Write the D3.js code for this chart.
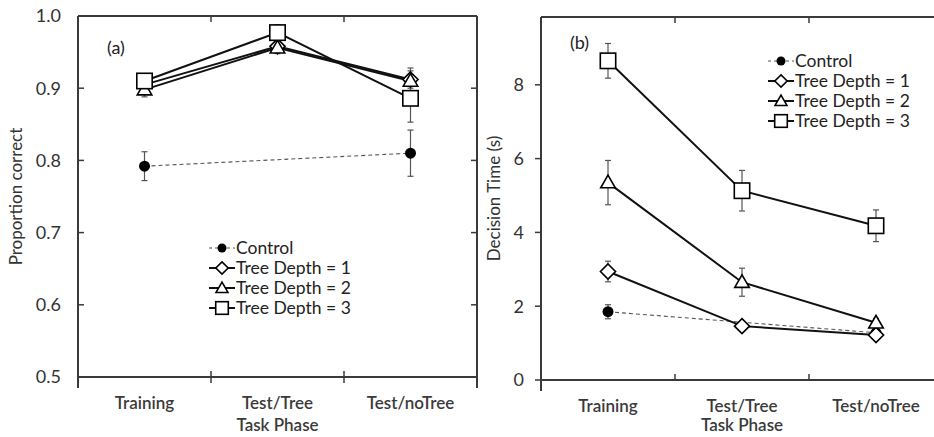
<!DOCTYPE html>
<html>
<head>
<meta charset="utf-8">
<script src="https://cdn.jsdelivr.net/npm/d3@7"></script>
<style>
  body{margin:0;background:#fff;}
  svg{display:block;font-family:Lato,"Open Sans",sans-serif;}
</style>
</head>
<body>
<svg id="chart" width="934" height="437"></svg>
<script>
// categories
var phases=["Training","Test/Tree","Test/noTree"];
var seriesNames=["Control","Tree Depth = 1","Tree Depth = 2","Tree Depth = 3"];

// panel (a) proportion correct, null = no point
var accControl=[0.792,null,0.810];
var accControlErr=[0.020,null,0.032];
var accDepth1=[0.905,0.958,0.912];
var accDepth1Err=[0.010,0.008,0.012];
var accDepth2=[0.898,0.956,0.910];
var accDepth2Err=[0.010,0.008,0.018];
var accDepth3=[0.910,0.977,0.886];
var accDepth3Err=[0.008,0.011,0.033];

// panel (b) decision time (s)
var dtControl=[1.85,null,1.28];
var dtControlErr=[0.19,null,0.08];
var dtDepth1=[2.94,1.46,1.22];
var dtDepth1Err=[0.28,0.08,0.08];
var dtDepth2=[5.35,2.65,1.55];
var dtDepth2Err=[0.60,0.38,0.12];
var dtDepth3=[8.65,5.13,4.18];
var dtDepth3Err=[0.47,0.55,0.43];

var accTicks=[0.5,0.6,0.7,0.8,0.9,1.0];
var dtTicks=[0,2,4,6,8];

var svg=d3.select("#chart");
var axisCol="#3a3a3a";

function drawMarker(g,type,x,y,sc){
    sc=sc||1;
    if(type==0){
        g.append("circle").attr("cx",x).attr("cy",y).attr("r",5*sc).attr("fill","#000");
    }else if(type==1){
        g.append("path").attr("d",d3.symbol().type(d3.symbolDiamond2).size(120*sc*sc)())
            .attr("transform","translate("+x+","+y+")")
            .attr("fill","#fff").attr("stroke","#000").attr("stroke-width",1.6);
    }else if(type==2){
        g.append("path").attr("d",d3.symbol().type(d3.symbolTriangle2).size(125*sc*sc)())
            .attr("transform","translate("+x+","+(y+1)+")")
            .attr("fill","#fff").attr("stroke","#000").attr("stroke-width",1.6);
    }else{
        var h=7*sc;
        g.append("rect").attr("x",x-h).attr("y",y-h).attr("width",2*h).attr("height",2*h)
            .attr("fill","#fff").attr("stroke","#000").attr("stroke-width",1.6);
    }
}

function drawPanel(cfg){
    var g=svg.append("g");
    var x=d3.scaleBand().domain(phases).range([cfg.left,cfg.right]);
    var y=d3.scaleLinear().domain(cfg.domain).range([cfg.bottom,cfg.top0]);
    var cx=function(p){return x(p)+x.bandwidth()/2;};

    // frame / axes
    g.append("line").attr("x1",cfg.left).attr("x2",cfg.left).attr("y1",cfg.top).attr("y2",cfg.bottom+11)
        .attr("stroke",axisCol).attr("stroke-width",2);
    g.append("line").attr("x1",cfg.left).attr("x2",cfg.right).attr("y1",cfg.bottom).attr("y2",cfg.bottom)
        .attr("stroke",axisCol).attr("stroke-width",2.2);
    g.append("line").attr("x1",cfg.left).attr("x2",cfg.right).attr("y1",cfg.top).attr("y2",cfg.top)
        .attr("stroke",axisCol).attr("stroke-width",2);
    if(cfg.rightBorder){
        g.append("line").attr("x1",cfg.right).attr("x2",cfg.right).attr("y1",cfg.top).attr("y2",cfg.bottom+11)
            .attr("stroke",axisCol).attr("stroke-width",2);
    }

    // y ticks
    cfg.ticks.forEach(function(t){
        var yy=y(t);
        g.append("line").attr("x1",cfg.left+cfg.tickDir*6).attr("x2",cfg.left).attr("y1",yy).attr("y2",yy)
            .attr("stroke",axisCol).attr("stroke-width",1.5);
        if(cfg.rightBorder && t>cfg.domain[0] && t<cfg.domain[1]){
            g.append("line").attr("x1",cfg.right-6).attr("x2",cfg.right).attr("y1",yy).attr("y2",yy)
                .attr("stroke",axisCol).attr("stroke-width",1.5);
        }
        g.append("text").attr("x",cfg.left-cfg.labelGap).attr("y",yy).attr("dy","0.35em")
            .attr("text-anchor","end").style("font-size","18px").style("fill","#333")
            .text(cfg.fmt(t));
    });

    // x ticks at band edges
    phases.slice(1).forEach(function(p){
        var xx=x(p);
        g.append("line").attr("x1",xx).attr("x2",xx).attr("y1",cfg.bottom+cfg.xTick[0]).attr("y2",cfg.bottom+cfg.xTick[1])
            .attr("stroke",axisCol).attr("stroke-width",1.5);
        g.append("line").attr("x1",xx).attr("x2",xx).attr("y1",cfg.top).attr("y2",cfg.top+6)
            .attr("stroke",axisCol).attr("stroke-width",1.5);
    });
    phases.forEach(function(p){
        g.append("text").attr("x",cx(p)).attr("y",cfg.bottom+32).attr("text-anchor","middle")
            .style("font-size","17px").style("font-weight","600").style("fill","#3a3a3a").text(p);
    });
    g.append("text").attr("x",cx(phases[1])).attr("y",431).attr("text-anchor","middle")
        .style("font-size","17px").style("font-weight","600").style("fill","#3a3a3a").text("Task Phase");
    g.append("text").attr("transform","translate("+cfg.titleX+","+((cfg.top+cfg.bottom)/2)+") rotate(-90)")
        .attr("text-anchor","middle").style("font-size","17px").style("fill","#333").text(cfg.title);
    g.append("text").attr("x",cfg.tag[0]).attr("y",cfg.tag[1]).style("font-size","18px").style("fill","#222").text(cfg.tagText);

    // series
    cfg.series.forEach(function(s,k){
        var pts=[];
        s.vals.forEach(function(v,i){ if(v!==null){ pts.push([cx(phases[i]),y(v)]); } });
        g.append("path").attr("d",d3.line()(pts)).attr("fill","none")
            .attr("stroke",k==0?"#555":"#111")
            .attr("stroke-width",k==0?1.1:2)
            .attr("stroke-dasharray",k==0?"4,3":null);
    });
    cfg.series.forEach(function(s,k){
        s.vals.forEach(function(v,i){
            if(v===null) return;
            var xx=cx(phases[i]);
            var e=s.err[i];
            g.append("line").attr("x1",xx).attr("x2",xx).attr("y1",y(v-e)).attr("y2",y(v+e))
                .attr("stroke","#555").attr("stroke-width",1.2);
            [v-e,v+e].forEach(function(b){
                g.append("line").attr("x1",xx-3).attr("x2",xx+3).attr("y1",y(b)).attr("y2",y(b))
                    .attr("stroke","#555").attr("stroke-width",1.2);
            });
        });
    });
    cfg.series.forEach(function(s,k){
        s.vals.forEach(function(v,i){
            if(v===null) return;
            drawMarker(g,k,cx(phases[i]),y(v),1.1);
        });
    });

    // legend
    seriesNames.forEach(function(n,k){
        var ly=cfg.legend[1]+k*20;
        var lx=cfg.legend[0];
        g.append("line").attr("x1",lx-13).attr("x2",lx+13).attr("y1",ly).attr("y2",ly)
            .attr("stroke",k==0?"#555":"#111").attr("stroke-width",k==0?1.1:2)
            .attr("stroke-dasharray",k==0?"3,3":null);
        drawMarker(g,k,lx,ly,0.9);
        g.append("text").attr("x",lx+14).attr("y",ly).attr("dy","0.35em")
            .style("font-size","17.5px").style("fill","#222").text(n);
    });
}

drawPanel({
    left:78,right:477,top:16,top0:16,bottom:377,domain:[0.5,1.0],
    ticks:accTicks,fmt:d3.format(".1f"),tickDir:1,labelGap:17,xTick:[-6,6],rightBorder:true,
    title:"Proportion correct",titleX:22,tag:[107,54],tagText:"(a)",legend:[222,248],
    series:[
        {vals:accControl,err:accControlErr},
        {vals:accDepth1,err:accDepth1Err},
        {vals:accDepth2,err:accDepth2Err},
        {vals:accDepth3,err:accDepth3Err}
    ]
});

drawPanel({
    left:541,right:943,top:17,top0:11,bottom:380,domain:[0,10],
    ticks:dtTicks,fmt:d3.format("d"),tickDir:-1,labelGap:17,xTick:[-6,0],rightBorder:false,
    title:"Decision Time (s)",titleX:500,tag:[570,49],tagText:"(b)",legend:[781,61],
    series:[
        {vals:dtControl,err:dtControlErr},
        {vals:dtDepth1,err:dtDepth1Err},
        {vals:dtDepth2,err:dtDepth2Err},
        {vals:dtDepth3,err:dtDepth3Err}
    ]
});
</script>
</body>
</html>
